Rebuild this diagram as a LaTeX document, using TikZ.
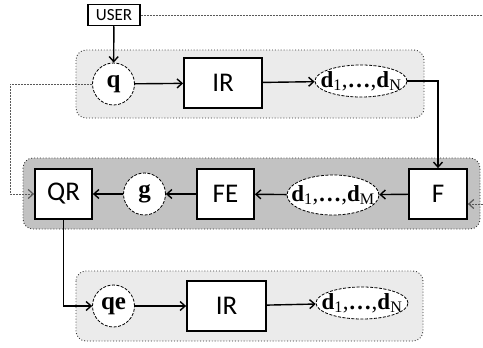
\documentclass[tikz,border=0pt]{standalone}
\usepackage{fontspec}
\setmainfont{Liberation Serif}
\newfontfamily\calibrifont{Carlito}
\usetikzlibrary{arrows.meta,shapes.geometric}
\newcommand{\dlist}[1]{\textbf{d}\textsubscript{1},\textbf{\ldots},\textbf{d}\textsubscript{#1}}
\begin{document}
\begin{tikzpicture}[x=1pt,y=-1pt,
  box/.style={draw=black,line width=1.8pt,fill=white,minimum width=#1,minimum height=50pt,inner sep=0pt,font=\calibrifont\fontsize{27}{29}\selectfont},
  circ/.style={circle,draw=black,dashed,dash pattern=on 3pt off 1.5pt,line width=0.8pt,fill=white,minimum size=42pt,inner sep=0pt,font=\fontsize{25}{27}\selectfont\bfseries},
  ell/.style={ellipse,draw=black,dashed,dash pattern=on 3pt off 1.5pt,line width=0.8pt,fill=white,minimum width=92pt,minimum height=#1,inner xsep=-14pt,inner ysep=-6pt,font=\fontsize{23}{25}\selectfont},
  panel/.style={draw=black!80,dotted,line width=0.9pt,rounded corners=10pt,fill=#1},
  conn/.style={line width=1.4pt,-{Straight Barb[length=5pt,width=9pt,line width=1.4pt]}},
  fb/.style={draw=black!65,dashed,dash pattern=on 2pt off 1pt,line width=1pt,-{Straight Barb[length=5pt,width=9pt,line width=1.2pt]}}]
\useasboundingbox (0,0) rectangle (483,348);
\fill[white] (0,0) rectangle (483,348);
% panels
\path[panel=black!8] (76,50) rectangle (424,118);
\path[panel=black!24] (23,158) rectangle (480,229);
\path[panel=black!8] (76,271) rectangle (423,341);
% nodes
\node[draw=black,line width=1.5pt,fill=white,minimum width=52pt,minimum height=21pt,inner sep=0pt,font=\calibrifont\fontsize{17}{18}\selectfont] (user) at (114,15) {USER};
\node[circ] (q) at (113.5,84) {q};
\node[box=78pt] (ir1) at (223,83) {IR};
\node[ell=32pt] (dn1) at (361,81) {\dlist{N}};
\node[box=57pt] (qr) at (63.5,194) {QR};
\node[circ] (g) at (144.5,194) {g};
\node[box=57pt] (fe) at (225.5,194) {FE};
\node[ell=40pt] (dm) at (333,195) {\dlist{M}};
\node[box=58pt] (f) at (438,194) {F};
\node[circ] (qe) at (113.5,306) {qe};
\node[box=79pt] (ir2) at (226.5,306) {IR};
\node[ell=32pt] (dn2) at (362,303) {\dlist{N}};
% connectors
\draw[conn] (user) -- (q);
\draw[conn] (q) -- (ir1);
\draw[conn] (ir1) -- (dn1);
\draw[conn] (dn1.east) -| (f.north);
\draw[conn] (f) -- (dm);
\draw[conn] (dm) -- (fe);
\draw[conn] (fe) -- (g);
\draw[conn] (g) -- (qr);
\draw[conn] (qr.south) |- (qe.west);
\draw[conn] (qe) -- (ir2);
\draw[conn] (ir2) -- (dn2);
\draw[fb] (q.west) -- (10,84) |- (qr.west);
\coordinate (fin) at ([yshift=-10pt]f.east);
\draw[fb] (user.east) -- (495,15) |- (fin);
\end{tikzpicture}
\end{document}
